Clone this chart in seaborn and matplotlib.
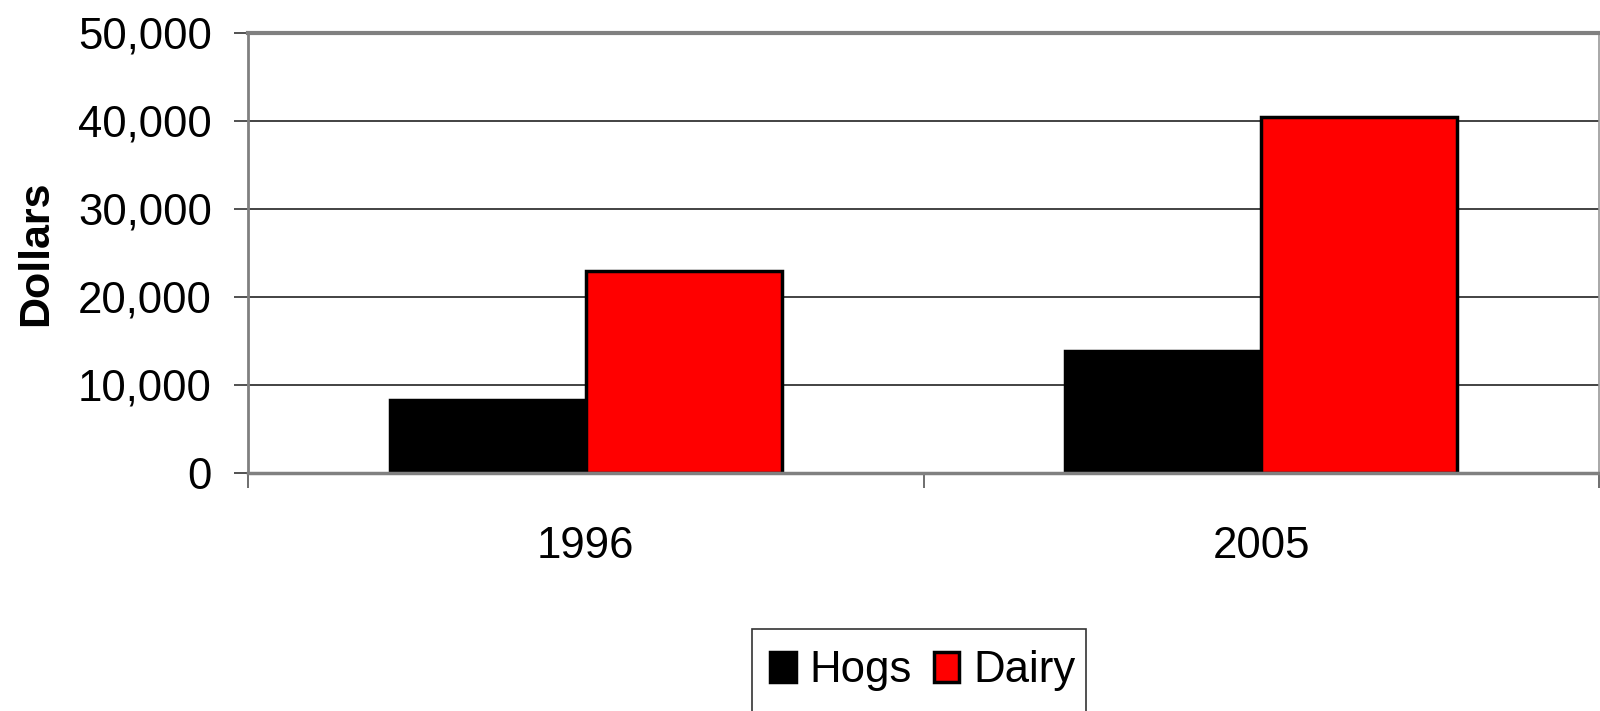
import matplotlib
matplotlib.use("Agg")
import matplotlib.pyplot as plt
import seaborn as sns
import pandas as pd
from matplotlib.ticker import FuncFormatter, FixedLocator
from matplotlib.patches import Rectangle

years = ["1996", "2005"]
series = ["Hogs", "Dairy"]
hogs = [8300, 13900]
dairy = [22900, 40500]
yticks = [0, 10000, 20000, 30000, 40000, 50000]
colors = ["#000000", "#FF0000"]

df = pd.DataFrame({
    "Year": years * 2,
    "Series": [series[0]] * len(years) + [series[1]] * len(years),
    "Dollars": hogs + dairy,
})

sns.set_theme(style="white")
plt.rcParams["font.family"] = ["Liberation Sans", "DejaVu Sans"]

W, H = 1600, 711
fig = plt.figure(figsize=(16, 7.11), dpi=100)
ax = fig.add_axes([248/W, 1 - 473/H, (1599-248)/W, (473-33)/H])

sns.barplot(data=df, x="Year", y="Dollars", hue="Series", order=years,
            hue_order=series, palette=colors, width=0.58, gap=0,
            edgecolor="black", linewidth=2.5, ax=ax, saturation=1)

ax.set_xlim(-0.5, 1.5)
ax.set_ylim(0, 50000)
ax.yaxis.set_major_locator(FixedLocator(yticks))
ax.yaxis.set_major_formatter(FuncFormatter(lambda v, p: f"{int(v):,}"))
ax.grid(axis="y", color="#222222", linewidth=1.2)
ax.set_axisbelow(True)

ax.spines["top"].set_color("#808080"); ax.spines["top"].set_linewidth(3)
ax.spines["left"].set_color("#808080"); ax.spines["left"].set_linewidth(2)
ax.spines["right"].set_color("#999999"); ax.spines["right"].set_linewidth(1.2)
ax.spines["bottom"].set_color("#808080"); ax.spines["bottom"].set_linewidth(2.5)
for s in ax.spines.values():
    s.set_visible(True)

ax.tick_params(axis="y", which="major", length=10, width=1.2, color="#333333",
               direction="out", labelsize=31.5, pad=16, left=True, labelcolor="black")
ax.tick_params(axis="x", which="major", length=0, labelsize=31.5, pad=38, labelcolor="black")
ax.set_xticks([-0.5, 0.5, 1.5], minor=True)
ax.tick_params(axis="x", which="minor", length=11, width=1.2, color="#555555",
               direction="out", bottom=True)

ax.set_xlabel("")
ax.set_ylabel("Dollars", fontsize=31, fontweight="bold", color="black")
ax.yaxis.set_label_coords(-0.142, 0.5)

leg = ax.legend(ncol=2, loc="upper left", bbox_to_anchor=(752/W, 1 - 632/H),
                bbox_transform=fig.transFigure, fontsize=31.5, frameon=False,
                handlelength=0.58, handleheight=0.68, handletextpad=0.32,
                columnspacing=0.5, borderpad=0.42, borderaxespad=0)
for t in leg.get_texts():
    t.set_color("black")

# legend box, running off the bottom edge as in the original
fig.patches.append(Rectangle((752/W, -0.05), (1086-752)/W, 0.05 + (1 - 629/H),
                             transform=fig.transFigure, fill=False,
                             edgecolor="#333333", linewidth=1.2))

fig.savefig("out.png", dpi=100)
